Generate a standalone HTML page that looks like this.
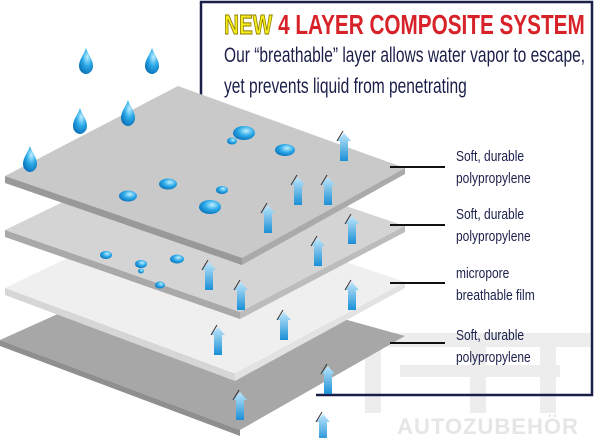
<!DOCTYPE html>
<html><head><meta charset="utf-8"><style>
body{margin:0;background:#fff;width:600px;height:438px;overflow:hidden;position:relative;font-family:"Liberation Sans",sans-serif}
.t{position:absolute;color:#1a1f4a;white-space:nowrap;transform-origin:0 0}
</style></head><body>
<svg width="600" height="438" style="position:absolute;left:0;top:0">
<defs>
<linearGradient id="ar" x1="0" x2="0" y1="0" y2="1"><stop offset="0" stop-color="#bfe6fb"/><stop offset="1" stop-color="#1a8fd6"/></linearGradient>
<radialGradient id="dr" cx="0.6" cy="0.35" r="0.7"><stop offset="0" stop-color="#bfefff"/><stop offset="0.5" stop-color="#2aa9e8"/><stop offset="1" stop-color="#0a6fb8"/></radialGradient>
<g id="a"><path d="M0,-14 L7,-6 L4,-6 L4,14 L-4,14 L-4,-6 L-7,-6 Z" fill="url(#ar)"/><path d="M-7,-6 L-1,-16" stroke="#333" stroke-width="1"/></g>
<g id="d"><path d="M0,-14 C3,-6 7,-2 7,4 C7,9 3,12 0,12 C-3,12 -7,9 -7,4 C-7,-2 -3,-6 0,-14Z" fill="url(#dr)"/></g>
</defs>
<g fill="#ededed">
<rect x="365" y="333" width="225" height="14"/><rect x="365" y="333" width="16" height="80"/><rect x="540" y="333" width="16" height="80"/>
<rect x="400" y="365" width="160" height="12"/><rect x="470" y="347" width="16" height="66"/>
</g>
<text x="488" y="434" font-family="Liberation Sans" font-weight="bold" font-size="22" fill="#e6e6e6" text-anchor="middle" letter-spacing="1">AUTOZUBEHÖR</text>
<path d="M201,100 L201,2 L592,2 L592,395 L316,395" fill="none" stroke="#1a1f4a" stroke-width="2.5"/>
<polygon points="0,340 160,268 405,336 240,430" fill="#a7a7a7"/>
<polygon points="0,340 240,430 240,436 0,346" fill="#8f8f8f"/>
<polygon points="5,288 178,205 405,282 235,374" fill="#efefef"/>
<polygon points="5,288 235,374 235,381 5,295" fill="#d6d6d6"/><polygon points="235,374 405,282 405,288 235,381" fill="#e2e2e2"/>
<polygon points="5,230 175,148 405,226 240,312" fill="#d4d4d4"/>
<polygon points="5,230 240,312 240,319 5,237" fill="#a9a9a9"/><polygon points="240,312 405,226 405,232 240,319" fill="#bcbcbc"/>
<polygon points="5,176 178,86 405,168 242,258" fill="#c9c9c9"/>
<polygon points="5,176 242,258 242,265 5,183" fill="#999"/><polygon points="242,258 405,168 405,174 242,265" fill="#aaa"/>
<g stroke="#111" stroke-width="2"><line x1="390" y1="167" x2="445" y2="167"/><line x1="390" y1="225" x2="445" y2="225"/><line x1="390" y1="283" x2="445" y2="283"/><line x1="390" y1="343" x2="445" y2="343"/></g>
<use href="#d" x="30" y="160"/><use href="#d" x="80" y="122"/><use href="#d" x="128" y="114"/><use href="#d" x="86" y="62"/><use href="#d" x="152" y="62"/>
<g fill="url(#dr)">
<ellipse cx="244" cy="133" rx="11" ry="7"/><ellipse cx="232" cy="141" rx="5" ry="3.5"/><ellipse cx="285" cy="150" rx="10" ry="6"/><ellipse cx="222" cy="190" rx="6" ry="4"/><ellipse cx="168" cy="184" rx="9" ry="5.5"/><ellipse cx="128" cy="196" rx="9" ry="5.5"/><ellipse cx="210" cy="207" rx="11" ry="7"/>
<ellipse cx="106" cy="255" rx="6" ry="4"/><ellipse cx="141" cy="264" rx="6" ry="4"/><ellipse cx="141" cy="271" rx="3" ry="2.5"/><ellipse cx="177" cy="259" rx="7" ry="4.5"/><ellipse cx="160" cy="285" rx="5" ry="3.5"/>
</g>
<use href="#a" x="344" y="147"/><use href="#a" x="298" y="191"/><use href="#a" x="328" y="191"/><use href="#a" x="268" y="219"/><use href="#a" x="352" y="230"/><use href="#a" x="318" y="252"/><use href="#a" x="209" y="276"/><use href="#a" x="241" y="296"/><use href="#a" x="352" y="296"/><use href="#a" x="284" y="326"/><use href="#a" x="218" y="341"/><use href="#a" x="328" y="380"/><use href="#a" x="240" y="406"/><use href="#a" x="323" y="428"/>
</svg>
<div class="t" style="left:224px;top:9px;font-size:28px;font-weight:bold;color:#d8222a;transform:scaleX(0.74)"><span style="color:#f4ec1c;-webkit-text-stroke:1px #8a7a00">NEW</span> 4 LAYER COMPOSITE SYSTEM</div>
<div class="t" style="left:224px;top:44px;font-size:21px;transform:scaleX(0.74)">Our “breathable” layer allows water vapor to escape,</div>
<div class="t" style="left:224px;top:75px;font-size:21px;transform:scaleX(0.74)">yet prevents liquid from penetrating</div>
<div class="t" style="left:456px;top:146px;font-size:15px;line-height:22px;transform:scaleX(0.8)">Soft, durable<br>polypropylene</div>
<div class="t" style="left:456px;top:204px;font-size:15px;line-height:22px;transform:scaleX(0.8)">Soft, durable<br>polypropylene</div>
<div class="t" style="left:456px;top:263px;font-size:15px;line-height:22px;transform:scaleX(0.8)">micropore<br>breathable film</div>
<div class="t" style="left:456px;top:325px;font-size:15px;line-height:22px;transform:scaleX(0.8)">Soft, durable<br>polypropylene</div>
</body></html>
